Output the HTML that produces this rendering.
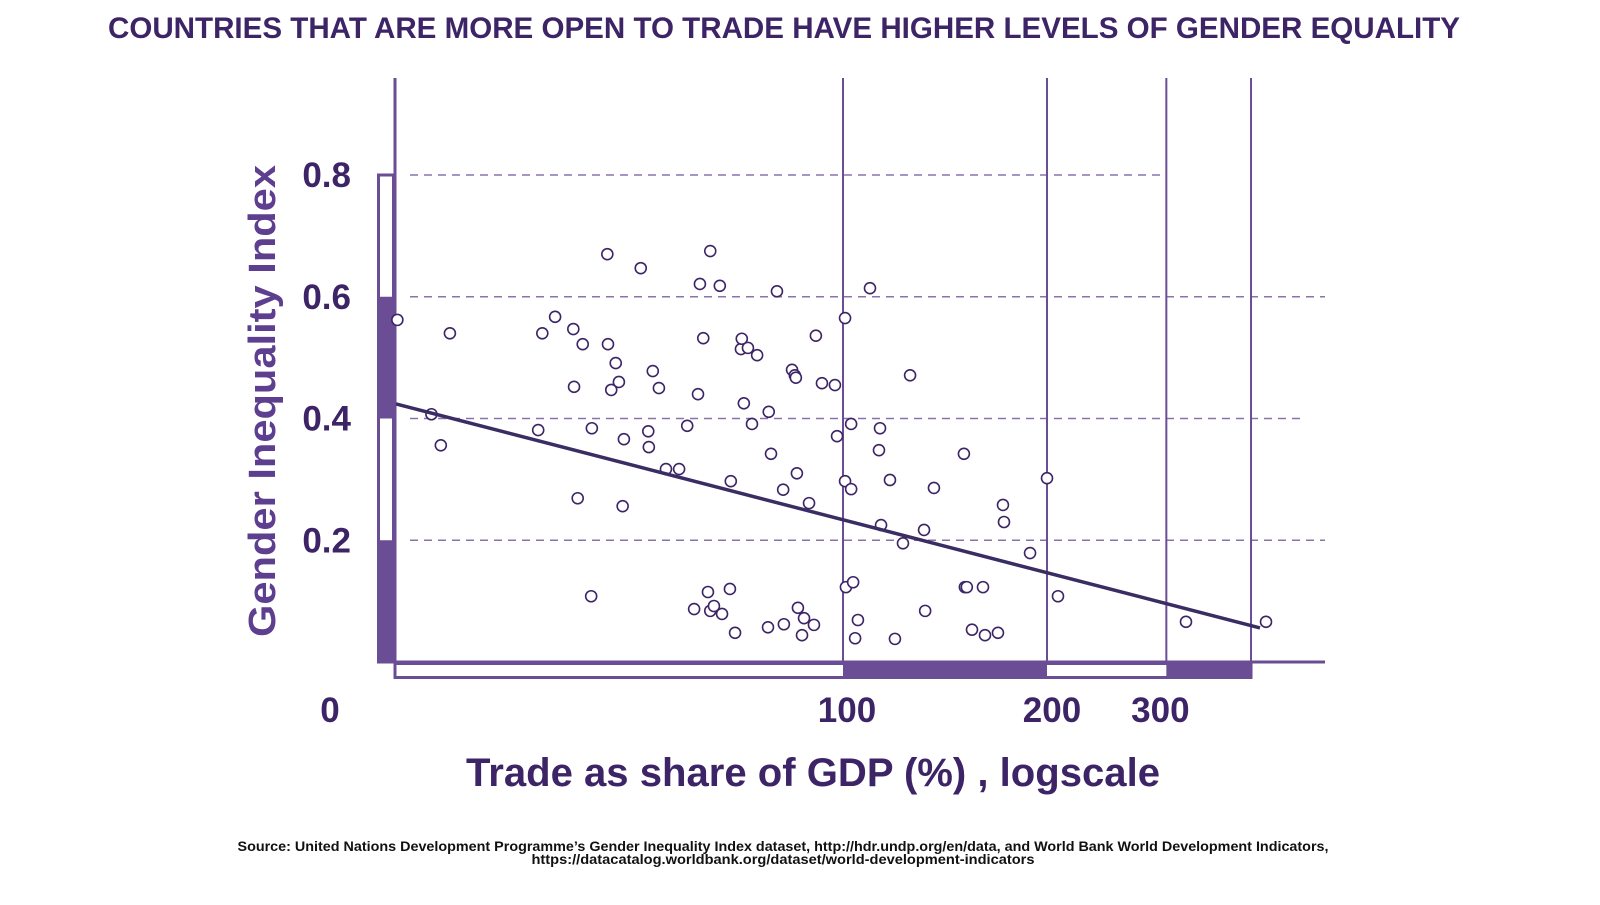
<!DOCTYPE html>
<html>
<head>
<meta charset="utf-8">
<style>
  html, body { margin: 0; padding: 0; background: #ffffff; }
  body { width: 1600px; height: 900px; overflow: hidden; font-family: "Liberation Sans", "DejaVu Sans", sans-serif; }
  svg text { font-family: "Liberation Sans", "DejaVu Sans", sans-serif; }
</style>
</head>
<body>
<svg id="chart" width="1600" height="900" viewBox="0 0 1600 900" xmlns="http://www.w3.org/2000/svg">
  <text x="784" y="38" text-anchor="middle" font-size="30" font-weight="bold" fill="#3d2466" textLength="1352" lengthAdjust="spacingAndGlyphs">COUNTRIES THAT ARE MORE OPEN TO TRADE HAVE HIGHER LEVELS OF GENDER EQUALITY</text>
  <g id="grid"></g>
  <g id="axes"></g>
  <g id="points"></g>
  <g id="trend"></g>
  <g id="labels"></g>
  <text transform="translate(275,401) rotate(-90)" text-anchor="middle" font-size="38" font-weight="bold" fill="#5e3f8f" textLength="472" lengthAdjust="spacingAndGlyphs">Gender Inequality Index</text>
  <text x="813" y="786" text-anchor="middle" font-size="40" font-weight="bold" fill="#3d2466" textLength="694" lengthAdjust="spacingAndGlyphs">Trade as share of GDP (%) , logscale</text>
  <text x="783" y="851" text-anchor="middle" font-size="14" font-weight="bold" fill="#111" textLength="1091" lengthAdjust="spacingAndGlyphs">Source: United Nations Development Programme’s Gender Inequality Index dataset, http://hdr.undp.org/en/data, and World Bank World Development Indicators,</text>
  <text x="783" y="864" text-anchor="middle" font-size="14" font-weight="bold" fill="#111" textLength="503" lengthAdjust="spacingAndGlyphs">https://datacatalog.worldbank.org/dataset/world-development-indicators</text>
</svg>
<script>
const trade = [22.0,24.7,25.5,26.3,35.5,36.0,37.6,40.0,40.1,40.6,41.3,42.5,42.6,44.9,45.0,45.5,46.2,46.7,47.3,47.5,50.3,51.6,51.7,52.4,53.5,54.8,57.3,58.9,60.3,61.1,61.5,62.2,63.2,63.7,63.7,64.5,65.8,66.3,68.1,68.3,69.3,70.7,70.9,71.4,72.4,73.4,74.7,77.5,77.7,78.3,79.9,81.6,81.8,84.1,84.9,85.2,85.5,85.8,87.0,87.6,89.1,90.6,91.2,93.1,97.3,98.0,100.7,100.7,101.0,102.8,102.8,103.5,104.2,105.2,109.6,113.0,113.4,113.8,117.3,119.3,122.6,125.6,131.7,132.2,136.2,150.8,151.3,152.3,155.0,160.9,162.0,169.3,172.2,172.8,188.8,200,207.6,320.7,420.9];
const gii = [0.562,0.407,0.356,0.540,0.381,0.540,0.567,0.547,0.452,0.269,0.522,0.108,0.384,0.670,0.522,0.447,0.491,0.460,0.256,0.366,0.647,0.379,0.353,0.478,0.450,0.317,0.317,0.388,0.087,0.440,0.621,0.532,0.115,0.675,0.084,0.092,0.618,0.079,0.120,0.297,0.048,0.514,0.531,0.425,0.516,0.391,0.504,0.057,0.411,0.342,0.609,0.283,0.062,0.480,0.471,0.467,0.310,0.089,0.044,0.072,0.261,0.061,0.536,0.458,0.455,0.371,0.565,0.297,0.123,0.391,0.284,0.131,0.039,0.069,0.614,0.348,0.384,0.225,0.299,0.038,0.195,0.471,0.217,0.084,0.286,0.342,0.123,0.123,0.053,0.123,0.044,0.048,0.258,0.230,0.179,0.302,0.108,0.066,0.066];
const trendTrade = [21.9, 412.4];
const trendGii = [0.424, 0.056];
const yTicks = [0.2, 0.4, 0.6, 0.8];
const yTickLabels = ["0.2", "0.4", "0.6", "0.8"];
const xTicks = [100, 200, 300, 400];
const xTickLabels = ["100", "200", "300"];

const NS = "http://www.w3.org/2000/svg";
function X(v) { return 843 + 677.7 * Math.log10(v / 100); }
function Y(v) { return 662 - 608.75 * v; }
function mk(tag, attrs, parent) {
  const e = document.createElementNS(NS, tag);
  for (const k in attrs) e.setAttribute(k, attrs[k]);
  parent.appendChild(e);
  return e;
}
const C = "#6a4d94", DARK = "#3d2466";
const grid = document.getElementById('grid');
const axes = document.getElementById('axes');
const pts = document.getElementById('points');
const trend = document.getElementById('trend');
const labels = document.getElementById('labels');

const gridEnds = [1325, 1305, 1325, 1165];
yTicks.forEach((t, i) => {
  const l = mk('line', {x1: 410, x2: gridEnds[i], y1: Y(t), y2: Y(t), stroke: "#8a72ad", 'stroke-width': 1.5, 'stroke-dasharray': "8,6"}, grid);
  
  
});
xTicks.forEach(t => {
  const l = mk('line', {x1: X(t), x2: X(t), y1: 78, y2: 662, stroke: C, 'stroke-width': 2}, grid);
  
  
});

let a = mk('line', {x1: 395, x2: 395, y1: 78, y2: 662, stroke: C, 'stroke-width': 3}, axes);


let f = mk('rect', {x: 378.5, y: Y(0.8), width: 15, height: Y(0) - Y(0.8), fill: "#fff", stroke: C, 'stroke-width': 3}, axes);


[[0.4, 0.6], [0, 0.2]].forEach(seg => {
  const r = mk('rect', {x: 377, y: Y(seg[1]), width: 18, height: Y(seg[0]) - Y(seg[1]), fill: C}, axes);
  
  
});
let xb = mk('rect', {x: 395, y: 663.5, width: X(400) - 395, height: 14, fill: "#fff", stroke: C, 'stroke-width': 3}, axes);


[[100, 200], [300, 400]].forEach(seg => {
  const r = mk('rect', {x: X(seg[0]), y: 662, width: X(seg[1]) - X(seg[0]), height: 17, fill: C}, axes);
  
  
});
a = mk('line', {x1: 377, x2: 1325, y1: 662, y2: 662, stroke: C, 'stroke-width': 3}, axes);



trade.forEach((t, i) => {
  const c = mk('circle', {cx: X(t), cy: Y(gii[i]), r: 5.5, fill: "#fff", stroke: DARK, 'stroke-width': 1.6}, pts);
  
  
});
const tl = mk('line', {x1: X(trendTrade[0]), y1: Y(trendGii[0]), x2: X(trendTrade[1]), y2: Y(trendGii[1]), stroke: "#3a2d63", 'stroke-width': 3.5}, trend);



yTickLabels.forEach((s, i) => {
  const t = mk('text', {x: 351, y: Y(yTicks[i]) + 12, 'text-anchor': 'end', 'font-size': 35, 'font-weight': 'bold', fill: DARK}, labels);
  t.textContent = s;
  
  
});
const z = mk('text', {x: 330, y: 722, 'text-anchor': 'middle', 'font-size': 35, 'font-weight': 'bold', fill: DARK}, labels);
z.textContent = "0";


const xOff = [4, 5, -6];
xTickLabels.forEach((s, i) => {
  const t = mk('text', {x: X(xTicks[i]) + xOff[i], y: 722, 'text-anchor': 'middle', 'font-size': 35, 'font-weight': 'bold', fill: DARK}, labels);
  t.textContent = s;
  
  
});
</script>
</body>
</html>
